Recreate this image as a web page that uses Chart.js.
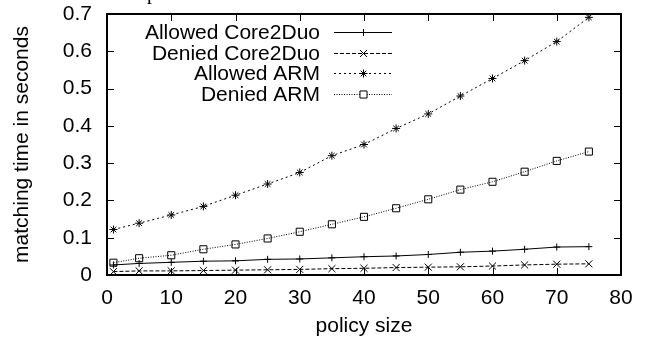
<!DOCTYPE html>
<html>
<head>
<meta charset="utf-8">
<script src="https://cdn.jsdelivr.net/npm/chart.js@4/dist/chart.umd.min.js"></script>
<style>
  html, body { margin: 0; padding: 0; background: #fff; }
  #wrap { width: 645px; height: 339px; }
</style>
</head>
<body>
<div id="wrap"><canvas id="chart" width="645" height="339"></canvas></div>
<script>
// datos
const policySizes = [1, 5, 10, 15, 20, 25, 30, 35, 40, 45, 50, 55, 60, 65, 70, 75];
const allowedCore2Duo = [0.027, 0.031, 0.034, 0.037, 0.038, 0.042, 0.043, 0.046, 0.049, 0.051, 0.055, 0.061, 0.064, 0.069, 0.075, 0.076];
const deniedCore2Duo = [0.009, 0.011, 0.011, 0.012, 0.013, 0.014, 0.015, 0.017, 0.018, 0.020, 0.021, 0.022, 0.024, 0.027, 0.029, 0.030];
const allowedARM = [0.122, 0.139, 0.161, 0.184, 0.214, 0.244, 0.275, 0.320, 0.350, 0.393, 0.432, 0.480, 0.527, 0.575, 0.626, 0.691];
const deniedARM = [0.033, 0.045, 0.053, 0.069, 0.082, 0.098, 0.116, 0.136, 0.156, 0.179, 0.203, 0.229, 0.250, 0.277, 0.306, 0.331];

const seriesNames = ["Allowed Core2Duo", "Denied Core2Duo", "Allowed ARM", "Denied ARM"];
const yTickLabels = ["0", "0.1", "0.2", "0.3", "0.4", "0.5", "0.6", "0.7"];
const xTickLabels = ["0", "10", "20", "30", "40", "50", "60", "70", "80"];

const FONT = "'Liberation Sans', Arial, Helvetica, sans-serif";
const FS = 21;

function pts(values) {
  return policySizes.map((x, i) => ({ x: x, y: values[i] }));
}

function makeSet(label, values, dash, pointStyle, radius) {
  return {
    label: label,
    data: pts(values),
    borderColor: "#000",
    backgroundColor: "rgba(0,0,0,0)",
    borderWidth: 1,
    borderDash: dash,
    pointStyle: pointStyle,
    pointRadius: radius,
    pointBorderColor: "#000",
    pointBorderWidth: 1,
    pointBackgroundColor: "rgba(0,0,0,0)",
    tension: 0
  };
}

// marco estilo gnuplot, marcas hacia dentro en los cuatro lados
const framePlugin = {
  id: "frame",
  afterDatasetsDraw(chart) {
    const { ctx, chartArea: a, scales } = chart;
    const tl = 7;
    ctx.save();
    ctx.strokeStyle = "#000";
    ctx.lineWidth = 1;
    ctx.beginPath();
    scales.x.ticks.forEach(t => {
      const px = Math.round(scales.x.getPixelForValue(t.value)) + 0.5;
      if (px <= a.left + 1 || px >= a.right - 1) return;
      ctx.moveTo(px, a.bottom); ctx.lineTo(px, a.bottom - tl);
      ctx.moveTo(px, a.top); ctx.lineTo(px, a.top + tl);
    });
    scales.y.ticks.forEach(t => {
      const py = Math.round(scales.y.getPixelForValue(t.value)) + 0.5;
      if (py <= a.top + 1 || py >= a.bottom - 1) return;
      ctx.moveTo(a.left, py); ctx.lineTo(a.left + tl, py);
      ctx.moveTo(a.right, py); ctx.lineTo(a.right - tl, py);
    });
    ctx.stroke();
    ctx.lineWidth = 2;
    ctx.strokeRect(a.left, a.top, a.right - a.left, a.bottom - a.top);
    ctx.restore();
  }
};

// leyenda como la de gnuplot: texto alineado a la derecha y muestra de línea
const keyPlugin = {
  id: "gnuKey",
  afterDatasetsDraw(chart) {
    const { ctx } = chart;
    const textRight = 320, lineL = 334, lineR = 392, rows = [32, 53, 73, 94];
    ctx.save();
    ctx.font = FS + "px " + FONT;
    ctx.textAlign = "right";
    ctx.textBaseline = "middle";
    chart.data.datasets.forEach((ds, i) => {
      const y = rows[i];
      ctx.fillStyle = "#000";
      ctx.fillText(ds.label, textRight, y + 1);
      ctx.strokeStyle = "#000";
      ctx.lineWidth = 1;
      ctx.setLineDash(ds.borderDash || []);
      ctx.beginPath();
      ctx.moveTo(lineL, y + 0.5);
      ctx.lineTo(lineR, y + 0.5);
      ctx.stroke();
      ctx.setLineDash([]);
      ctx.fillStyle = "#fff";
      Chart.helpers.drawPoint(ctx, { pointStyle: ds.pointStyle, radius: ds.pointRadius, borderWidth: 1, rotation: 0 }, (lineL + lineR) / 2 + 0.5, y + 0.5);
    });
    // título recortado arriba
    ctx.fillStyle = "#000";
    ctx.font = "20px 'Liberation Serif', serif";
    ctx.textAlign = "left";
    ctx.textBaseline = "alphabetic";
    ctx.fillText("p", 147, -1);
    ctx.restore();
  }
};

new Chart(document.getElementById("chart"), {
  type: "line",
  data: {
    datasets: [
      makeSet(seriesNames[0], allowedCore2Duo, [], "cross", 3.5),
      makeSet(seriesNames[1], deniedCore2Duo, [4, 2], "crossRot", 5),
      makeSet(seriesNames[2], allowedARM, [2, 3], "star", 4),
      makeSet(seriesNames[3], deniedARM, [1, 1.5], "rect", 5)
    ]
  },
  options: {
    responsive: false,
    animation: false,
    layout: { padding: { left: 0, top: 14, right: 24, bottom: 0 } },
    plugins: {
      legend: { display: false },
      tooltip: { enabled: false }
    },
    scales: {
      x: {
        type: "linear",
        min: 0,
        max: 80,
        ticks: {
          stepSize: 10,
          padding: 11,
          color: "#000",
          font: { family: FONT, size: FS },
          maxRotation: 0,
          callback: (v, i) => xTickLabels[i]
        },
        grid: { display: false, drawTicks: false },
        border: { display: false },
        title: { display: true, text: "policy size", color: "#000", font: { family: FONT, size: FS }, padding: { top: 0, bottom: 0 } },
        afterFit: (s) => { s.height = 64; s.paddingLeft = 0; s.paddingRight = 0; }
      },
      y: {
        min: 0,
        max: 0.7,
        ticks: {
          stepSize: 0.1,
          padding: 15,
          color: "#000",
          font: { family: FONT, size: FS },
          callback: (v, i) => yTickLabels[i]
        },
        grid: { display: false, drawTicks: false },
        border: { display: false },
        title: { display: true, text: "matching time in seconds", color: "#000", font: { family: FONT, size: FS }, padding: { top: 10, bottom: 0 } },
        afterFit: (s) => { s.width = 107; s.paddingTop = 0; s.paddingBottom = 0; }
      }
    }
  },
  plugins: [framePlugin, keyPlugin]
});
</script>
</body>
</html>
